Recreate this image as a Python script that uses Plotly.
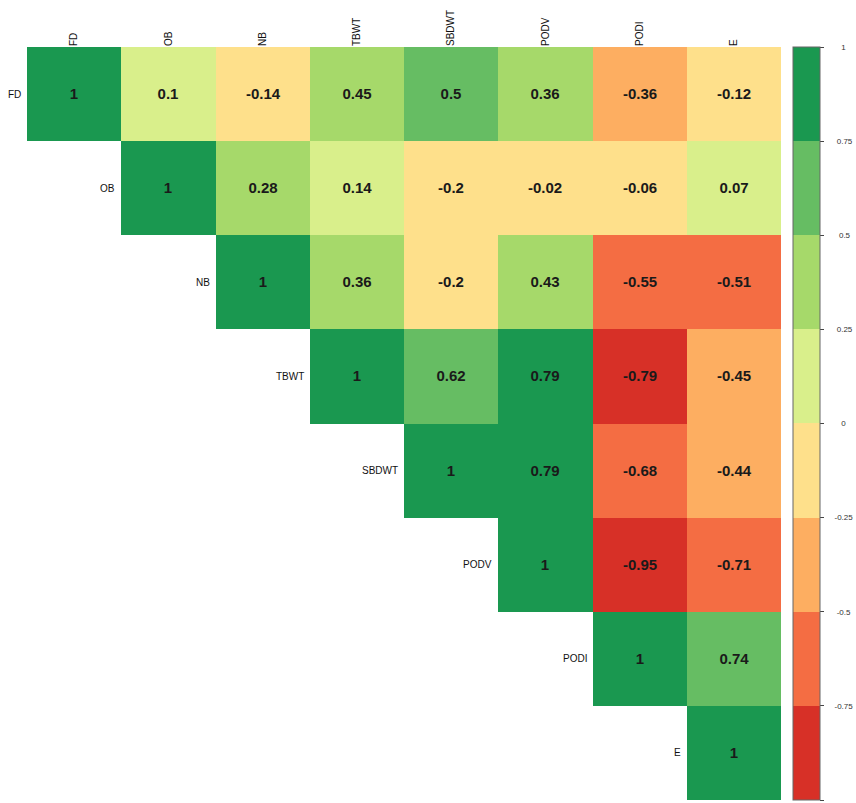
import plotly.graph_objects as go

labels = ["FD", "OB", "NB", "TBWT", "SBDWT", "PODV", "PODI", "E"]

# upper-triangle correlation values, row by row (None = blank)
row_FD = [1, 0.1, -0.14, 0.45, 0.5, 0.36, -0.36, -0.12]
row_OB = [None, 1, 0.28, 0.14, -0.2, -0.02, -0.06, 0.07]
row_NB = [None, None, 1, 0.36, -0.2, 0.43, -0.55, -0.51]
row_TBWT = [None, None, None, 1, 0.62, 0.79, -0.79, -0.45]
row_SBDWT = [None, None, None, None, 1, 0.79, -0.68, -0.44]
row_PODV = [None, None, None, None, None, 1, -0.95, -0.71]
row_PODI = [None, None, None, None, None, None, 1, 0.74]
row_E = [None, None, None, None, None, None, None, 1]

z = [row_FD, row_OB, row_NB, row_TBWT, row_SBDWT, row_PODV, row_PODI, row_E]

palette = ["#D73027", "#F46D43", "#FDAE61", "#FEE08B",
           "#D9EF8B", "#A6D96A", "#66BD63", "#1A9850"]
cb_ticks = [-1, -0.75, -0.5, -0.25, 0, 0.25, 0.5, 0.75, 1]
cb_labels = ["-1", "-0.75", "-0.5", "-0.25", "0", "0.25", "0.5", "0.75", "1"]

n_bins = len(palette)
colorscale = []
for k, c in enumerate(palette):
    colorscale.append([k / n_bins, c])
    colorscale.append([(k + 1) / n_bins, c])

# centre tick labels by padding with non-breaking spaces (kept inside the page)
cw = {"-": 2.66, ".": 2.22}
def width(s):
    return sum(cw.get(ch, 4.45) for ch in s)
padded = []
for s in cb_labels:
    npad = max(0, round((18 - width(s) / 2) / 2.22))
    padded.append("\u00a0" * npad + s)

text = [["" if v is None else f"{v:g}" for v in row] for row in z]

FONT = "Liberation Sans, Arial, sans-serif"
n = len(labels)
fig = go.Figure(go.Heatmap(
    z=z,
    x=list(range(n)),
    y=list(range(n)),
    text=text,
    texttemplate="<b>%{text}</b>",
    textfont=dict(size=15, color="#1a1a1a", family=FONT),
    colorscale=colorscale,
    zmin=-1, zmax=1,
    xgap=0, ygap=0,
    hoverongaps=False,
    colorbar=dict(
        x=1.0165, xanchor="left", xpad=0,
        y=0.5, yanchor="middle", len=1, lenmode="fraction", ypad=0,
        thickness=27, thicknessmode="pixels",
        outlinecolor="#666666", outlinewidth=1,
        tickvals=cb_ticks, ticktext=padded,
        ticks="outside", ticklen=4, tickcolor="#444444", tickwidth=1,
        tickfont=dict(size=8, color="#333333", family=FONT),
    ),
))

annotations = []
for i, lab in enumerate(labels):
    annotations.append(dict(
        x=i - 0.5, y=i, xref="x", yref="y",
        text=lab, showarrow=False, xanchor="right", yanchor="middle",
        xshift=-4,
        font=dict(size=10, color="#111111", family=FONT),
    ))

fig.update_layout(
    width=856, height=803,
    margin=dict(l=27, r=75, t=47, b=3, autoexpand=False),
    paper_bgcolor="white", plot_bgcolor="white",
    annotations=annotations,
    xaxis=dict(
        side="top", tickvals=list(range(n)), ticktext=labels,
        tickangle=-90, showgrid=False, zeroline=False, showline=False,
        ticks="", range=[-0.5, n - 0.5],
        tickfont=dict(size=10, color="#111111", family=FONT),
    ),
    yaxis=dict(
        autorange=False, range=[n - 0.5, -0.5],
        showticklabels=False, showgrid=False, zeroline=False, showline=False,
        ticks="",
    ),
)

fig.write_html(
    "out.html",
    config={"displayModeBar": False},
    post_script="document.body.style.margin='0';document.documentElement.style.overflow='hidden';",
)
